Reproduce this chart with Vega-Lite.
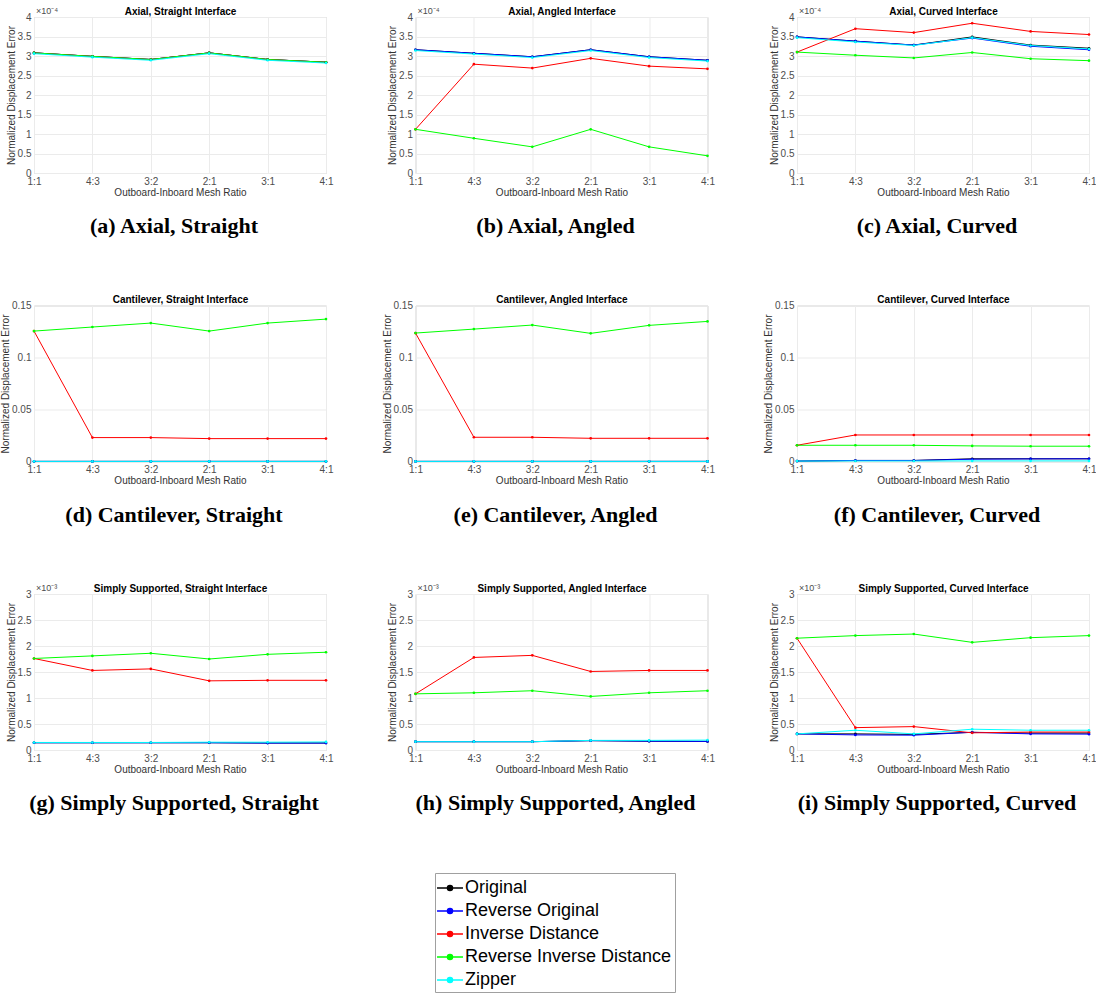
{
"$schema":"https://vega.github.io/schema/vega-lite/v6.json",
"padding":{"left":0,"top":5,"right":0,"bottom":0},
"datasets":{"err":[
{"panel":"a","ratio":"1:1","method":"Original","value":0.000308},{"panel":"a","ratio":"4:3","method":"Original","value":0.000299},{"panel":"a","ratio":"3:2","method":"Original","value":0.000291},{"panel":"a","ratio":"2:1","method":"Original","value":0.000308},{"panel":"a","ratio":"3:1","method":"Original","value":0.000291},{"panel":"a","ratio":"4:1","method":"Original","value":0.000284},
{"panel":"a","ratio":"1:1","method":"Reverse Original","value":0.000308},{"panel":"a","ratio":"4:3","method":"Reverse Original","value":0.000299},{"panel":"a","ratio":"3:2","method":"Reverse Original","value":0.000291},{"panel":"a","ratio":"2:1","method":"Reverse Original","value":0.000308},{"panel":"a","ratio":"3:1","method":"Reverse Original","value":0.000291},{"panel":"a","ratio":"4:1","method":"Reverse Original","value":0.000284},
{"panel":"a","ratio":"1:1","method":"Inverse Distance","value":0.000308},{"panel":"a","ratio":"4:3","method":"Inverse Distance","value":0.000299},{"panel":"a","ratio":"3:2","method":"Inverse Distance","value":0.000291},{"panel":"a","ratio":"2:1","method":"Inverse Distance","value":0.000308},{"panel":"a","ratio":"3:1","method":"Inverse Distance","value":0.000291},{"panel":"a","ratio":"4:1","method":"Inverse Distance","value":0.000284},
{"panel":"a","ratio":"1:1","method":"Reverse Inverse Distance","value":0.000308},{"panel":"a","ratio":"4:3","method":"Reverse Inverse Distance","value":0.000299},{"panel":"a","ratio":"3:2","method":"Reverse Inverse Distance","value":0.000291},{"panel":"a","ratio":"2:1","method":"Reverse Inverse Distance","value":0.000308},{"panel":"a","ratio":"3:1","method":"Reverse Inverse Distance","value":0.000291},{"panel":"a","ratio":"4:1","method":"Reverse Inverse Distance","value":0.000284},
{"panel":"a","ratio":"1:1","method":"Zipper","value":0.000306},{"panel":"a","ratio":"4:3","method":"Zipper","value":0.000297},{"panel":"a","ratio":"3:2","method":"Zipper","value":0.000289},{"panel":"a","ratio":"2:1","method":"Zipper","value":0.000306},{"panel":"a","ratio":"3:1","method":"Zipper","value":0.000289},{"panel":"a","ratio":"4:1","method":"Zipper","value":0.000282},

{"panel":"b","ratio":"1:1","method":"Original","value":0.000316},{"panel":"b","ratio":"4:3","method":"Original","value":0.000307},{"panel":"b","ratio":"3:2","method":"Original","value":0.000298},{"panel":"b","ratio":"2:1","method":"Original","value":0.000316},{"panel":"b","ratio":"3:1","method":"Original","value":0.000298},{"panel":"b","ratio":"4:1","method":"Original","value":0.000289},
{"panel":"b","ratio":"1:1","method":"Reverse Original","value":0.000316},{"panel":"b","ratio":"4:3","method":"Reverse Original","value":0.000307},{"panel":"b","ratio":"3:2","method":"Reverse Original","value":0.000298},{"panel":"b","ratio":"2:1","method":"Reverse Original","value":0.000316},{"panel":"b","ratio":"3:1","method":"Reverse Original","value":0.000298},{"panel":"b","ratio":"4:1","method":"Reverse Original","value":0.000289},
{"panel":"b","ratio":"1:1","method":"Inverse Distance","value":0.000112},{"panel":"b","ratio":"4:3","method":"Inverse Distance","value":0.000279},{"panel":"b","ratio":"3:2","method":"Inverse Distance","value":0.000269},{"panel":"b","ratio":"2:1","method":"Inverse Distance","value":0.000294},{"panel":"b","ratio":"3:1","method":"Inverse Distance","value":0.000274},{"panel":"b","ratio":"4:1","method":"Inverse Distance","value":0.000267},
{"panel":"b","ratio":"1:1","method":"Reverse Inverse Distance","value":0.000112},{"panel":"b","ratio":"4:3","method":"Reverse Inverse Distance","value":0.000089},{"panel":"b","ratio":"3:2","method":"Reverse Inverse Distance","value":0.000067},{"panel":"b","ratio":"2:1","method":"Reverse Inverse Distance","value":0.000112},{"panel":"b","ratio":"3:1","method":"Reverse Inverse Distance","value":0.000067},{"panel":"b","ratio":"4:1","method":"Reverse Inverse Distance","value":0.000044},
{"panel":"b","ratio":"1:1","method":"Zipper","value":0.000314},{"panel":"b","ratio":"4:3","method":"Zipper","value":0.000305},{"panel":"b","ratio":"3:2","method":"Zipper","value":0.000296},{"panel":"b","ratio":"2:1","method":"Zipper","value":0.000314},{"panel":"b","ratio":"3:1","method":"Zipper","value":0.000296},{"panel":"b","ratio":"4:1","method":"Zipper","value":0.000287},

{"panel":"c","ratio":"1:1","method":"Original","value":0.000349},{"panel":"c","ratio":"4:3","method":"Original","value":0.000338},{"panel":"c","ratio":"3:2","method":"Original","value":0.000328},{"panel":"c","ratio":"2:1","method":"Original","value":0.000349},{"panel":"c","ratio":"3:1","method":"Original","value":0.000328},{"panel":"c","ratio":"4:1","method":"Original","value":0.00032},
{"panel":"c","ratio":"1:1","method":"Reverse Original","value":0.000349},{"panel":"c","ratio":"4:3","method":"Reverse Original","value":0.000338},{"panel":"c","ratio":"3:2","method":"Reverse Original","value":0.000328},{"panel":"c","ratio":"2:1","method":"Reverse Original","value":0.000346},{"panel":"c","ratio":"3:1","method":"Reverse Original","value":0.000325},{"panel":"c","ratio":"4:1","method":"Reverse Original","value":0.000316},
{"panel":"c","ratio":"1:1","method":"Inverse Distance","value":0.00031},{"panel":"c","ratio":"4:3","method":"Inverse Distance","value":0.00037},{"panel":"c","ratio":"3:2","method":"Inverse Distance","value":0.00036},{"panel":"c","ratio":"2:1","method":"Inverse Distance","value":0.000384},{"panel":"c","ratio":"3:1","method":"Inverse Distance","value":0.000363},{"panel":"c","ratio":"4:1","method":"Inverse Distance","value":0.000355},
{"panel":"c","ratio":"1:1","method":"Reverse Inverse Distance","value":0.00031},{"panel":"c","ratio":"4:3","method":"Reverse Inverse Distance","value":0.000302},{"panel":"c","ratio":"3:2","method":"Reverse Inverse Distance","value":0.000295},{"panel":"c","ratio":"2:1","method":"Reverse Inverse Distance","value":0.000309},{"panel":"c","ratio":"3:1","method":"Reverse Inverse Distance","value":0.000293},{"panel":"c","ratio":"4:1","method":"Reverse Inverse Distance","value":0.000288},
{"panel":"c","ratio":"1:1","method":"Zipper","value":0.000347},{"panel":"c","ratio":"4:3","method":"Zipper","value":0.000336},{"panel":"c","ratio":"3:2","method":"Zipper","value":0.000327},{"panel":"c","ratio":"2:1","method":"Zipper","value":0.000347},{"panel":"c","ratio":"3:1","method":"Zipper","value":0.000327},{"panel":"c","ratio":"4:1","method":"Zipper","value":0.000318},

{"panel":"d","ratio":"1:1","method":"Original","value":0.0001},{"panel":"d","ratio":"4:3","method":"Original","value":0.0001},{"panel":"d","ratio":"3:2","method":"Original","value":0.0001},{"panel":"d","ratio":"2:1","method":"Original","value":0.0001},{"panel":"d","ratio":"3:1","method":"Original","value":0.0001},{"panel":"d","ratio":"4:1","method":"Original","value":0.0001},
{"panel":"d","ratio":"1:1","method":"Reverse Original","value":0.0001},{"panel":"d","ratio":"4:3","method":"Reverse Original","value":0.0001},{"panel":"d","ratio":"3:2","method":"Reverse Original","value":0.0001},{"panel":"d","ratio":"2:1","method":"Reverse Original","value":0.0001},{"panel":"d","ratio":"3:1","method":"Reverse Original","value":0.0001},{"panel":"d","ratio":"4:1","method":"Reverse Original","value":0.0001},
{"panel":"d","ratio":"1:1","method":"Inverse Distance","value":0.1254},{"panel":"d","ratio":"4:3","method":"Inverse Distance","value":0.023},{"panel":"d","ratio":"3:2","method":"Inverse Distance","value":0.023},{"panel":"d","ratio":"2:1","method":"Inverse Distance","value":0.022},{"panel":"d","ratio":"3:1","method":"Inverse Distance","value":0.022},{"panel":"d","ratio":"4:1","method":"Inverse Distance","value":0.022},
{"panel":"d","ratio":"1:1","method":"Reverse Inverse Distance","value":0.1254},{"panel":"d","ratio":"4:3","method":"Reverse Inverse Distance","value":0.1293},{"panel":"d","ratio":"3:2","method":"Reverse Inverse Distance","value":0.1331},{"panel":"d","ratio":"2:1","method":"Reverse Inverse Distance","value":0.1254},{"panel":"d","ratio":"3:1","method":"Reverse Inverse Distance","value":0.1331},{"panel":"d","ratio":"4:1","method":"Reverse Inverse Distance","value":0.1369},
{"panel":"d","ratio":"1:1","method":"Zipper","value":0.0001},{"panel":"d","ratio":"4:3","method":"Zipper","value":0.0001},{"panel":"d","ratio":"3:2","method":"Zipper","value":0.0001},{"panel":"d","ratio":"2:1","method":"Zipper","value":0.0001},{"panel":"d","ratio":"3:1","method":"Zipper","value":0.0001},{"panel":"d","ratio":"4:1","method":"Zipper","value":0.0001},

{"panel":"e","ratio":"1:1","method":"Original","value":0.0001},{"panel":"e","ratio":"4:3","method":"Original","value":0.0001},{"panel":"e","ratio":"3:2","method":"Original","value":0.0001},{"panel":"e","ratio":"2:1","method":"Original","value":0.0001},{"panel":"e","ratio":"3:1","method":"Original","value":0.0001},{"panel":"e","ratio":"4:1","method":"Original","value":0.0001},
{"panel":"e","ratio":"1:1","method":"Reverse Original","value":0.0001},{"panel":"e","ratio":"4:3","method":"Reverse Original","value":0.0001},{"panel":"e","ratio":"3:2","method":"Reverse Original","value":0.0001},{"panel":"e","ratio":"2:1","method":"Reverse Original","value":0.0001},{"panel":"e","ratio":"3:1","method":"Reverse Original","value":0.0001},{"panel":"e","ratio":"4:1","method":"Reverse Original","value":0.0001},
{"panel":"e","ratio":"1:1","method":"Inverse Distance","value":0.1235},{"panel":"e","ratio":"4:3","method":"Inverse Distance","value":0.0233},{"panel":"e","ratio":"3:2","method":"Inverse Distance","value":0.0233},{"panel":"e","ratio":"2:1","method":"Inverse Distance","value":0.0223},{"panel":"e","ratio":"3:1","method":"Inverse Distance","value":0.0223},{"panel":"e","ratio":"4:1","method":"Inverse Distance","value":0.0223},
{"panel":"e","ratio":"1:1","method":"Reverse Inverse Distance","value":0.1235},{"panel":"e","ratio":"4:3","method":"Reverse Inverse Distance","value":0.1273},{"panel":"e","ratio":"3:2","method":"Reverse Inverse Distance","value":0.1312},{"panel":"e","ratio":"2:1","method":"Reverse Inverse Distance","value":0.1232},{"panel":"e","ratio":"3:1","method":"Reverse Inverse Distance","value":0.1309},{"panel":"e","ratio":"4:1","method":"Reverse Inverse Distance","value":0.1347},
{"panel":"e","ratio":"1:1","method":"Zipper","value":0.0001},{"panel":"e","ratio":"4:3","method":"Zipper","value":0.0001},{"panel":"e","ratio":"3:2","method":"Zipper","value":0.0001},{"panel":"e","ratio":"2:1","method":"Zipper","value":0.0001},{"panel":"e","ratio":"3:1","method":"Zipper","value":0.0001},{"panel":"e","ratio":"4:1","method":"Zipper","value":0.0001},

{"panel":"f","ratio":"1:1","method":"Original","value":0.0004},{"panel":"f","ratio":"4:3","method":"Original","value":0.001},{"panel":"f","ratio":"3:2","method":"Original","value":0.001},{"panel":"f","ratio":"2:1","method":"Original","value":0.0026},{"panel":"f","ratio":"3:1","method":"Original","value":0.0026},{"panel":"f","ratio":"4:1","method":"Original","value":0.0026},
{"panel":"f","ratio":"1:1","method":"Reverse Original","value":0.0004},{"panel":"f","ratio":"4:3","method":"Reverse Original","value":0.001},{"panel":"f","ratio":"3:2","method":"Reverse Original","value":0.001},{"panel":"f","ratio":"2:1","method":"Reverse Original","value":0.0022},{"panel":"f","ratio":"3:1","method":"Reverse Original","value":0.0025},{"panel":"f","ratio":"4:1","method":"Reverse Original","value":0.0026},
{"panel":"f","ratio":"1:1","method":"Inverse Distance","value":0.0156},{"panel":"f","ratio":"4:3","method":"Inverse Distance","value":0.0255},{"panel":"f","ratio":"3:2","method":"Inverse Distance","value":0.0255},{"panel":"f","ratio":"2:1","method":"Inverse Distance","value":0.0255},{"panel":"f","ratio":"3:1","method":"Inverse Distance","value":0.0255},{"panel":"f","ratio":"4:1","method":"Inverse Distance","value":0.0255},
{"panel":"f","ratio":"1:1","method":"Reverse Inverse Distance","value":0.0156},{"panel":"f","ratio":"4:3","method":"Reverse Inverse Distance","value":0.0156},{"panel":"f","ratio":"3:2","method":"Reverse Inverse Distance","value":0.0156},{"panel":"f","ratio":"2:1","method":"Reverse Inverse Distance","value":0.015},{"panel":"f","ratio":"3:1","method":"Reverse Inverse Distance","value":0.0147},{"panel":"f","ratio":"4:1","method":"Reverse Inverse Distance","value":0.0147},
{"panel":"f","ratio":"1:1","method":"Zipper","value":0.0004},{"panel":"f","ratio":"4:3","method":"Zipper","value":0.0005},{"panel":"f","ratio":"3:2","method":"Zipper","value":0.0005},{"panel":"f","ratio":"2:1","method":"Zipper","value":0.0006},{"panel":"f","ratio":"3:1","method":"Zipper","value":0.0006},{"panel":"f","ratio":"4:1","method":"Zipper","value":0.0006},

{"panel":"g","ratio":"1:1","method":"Original","value":0.00014},{"panel":"g","ratio":"4:3","method":"Original","value":0.00014},{"panel":"g","ratio":"3:2","method":"Original","value":0.00014},{"panel":"g","ratio":"2:1","method":"Original","value":0.00014},{"panel":"g","ratio":"3:1","method":"Original","value":0.000135},{"panel":"g","ratio":"4:1","method":"Original","value":0.000135},
{"panel":"g","ratio":"1:1","method":"Reverse Original","value":0.00014},{"panel":"g","ratio":"4:3","method":"Reverse Original","value":0.00014},{"panel":"g","ratio":"3:2","method":"Reverse Original","value":0.00014},{"panel":"g","ratio":"2:1","method":"Reverse Original","value":0.00014},{"panel":"g","ratio":"3:1","method":"Reverse Original","value":0.000133},{"panel":"g","ratio":"4:1","method":"Reverse Original","value":0.000133},
{"panel":"g","ratio":"1:1","method":"Inverse Distance","value":0.00176},{"panel":"g","ratio":"4:3","method":"Inverse Distance","value":0.00153},{"panel":"g","ratio":"3:2","method":"Inverse Distance","value":0.00156},{"panel":"g","ratio":"2:1","method":"Inverse Distance","value":0.00133},{"panel":"g","ratio":"3:1","method":"Inverse Distance","value":0.00134},{"panel":"g","ratio":"4:1","method":"Inverse Distance","value":0.00134},
{"panel":"g","ratio":"1:1","method":"Reverse Inverse Distance","value":0.00176},{"panel":"g","ratio":"4:3","method":"Reverse Inverse Distance","value":0.00181},{"panel":"g","ratio":"3:2","method":"Reverse Inverse Distance","value":0.00186},{"panel":"g","ratio":"2:1","method":"Reverse Inverse Distance","value":0.00175},{"panel":"g","ratio":"3:1","method":"Reverse Inverse Distance","value":0.00184},{"panel":"g","ratio":"4:1","method":"Reverse Inverse Distance","value":0.00188},
{"panel":"g","ratio":"1:1","method":"Zipper","value":0.000145},{"panel":"g","ratio":"4:3","method":"Zipper","value":0.000145},{"panel":"g","ratio":"3:2","method":"Zipper","value":0.000145},{"panel":"g","ratio":"2:1","method":"Zipper","value":0.00015},{"panel":"g","ratio":"3:1","method":"Zipper","value":0.00015},{"panel":"g","ratio":"4:1","method":"Zipper","value":0.000155},

{"panel":"h","ratio":"1:1","method":"Original","value":0.00016},{"panel":"h","ratio":"4:3","method":"Original","value":0.00016},{"panel":"h","ratio":"3:2","method":"Original","value":0.00016},{"panel":"h","ratio":"2:1","method":"Original","value":0.00018},{"panel":"h","ratio":"3:1","method":"Original","value":0.00017},{"panel":"h","ratio":"4:1","method":"Original","value":0.000165},
{"panel":"h","ratio":"1:1","method":"Reverse Original","value":0.00016},{"panel":"h","ratio":"4:3","method":"Reverse Original","value":0.00016},{"panel":"h","ratio":"3:2","method":"Reverse Original","value":0.00016},{"panel":"h","ratio":"2:1","method":"Reverse Original","value":0.00018},{"panel":"h","ratio":"3:1","method":"Reverse Original","value":0.00017},{"panel":"h","ratio":"4:1","method":"Reverse Original","value":0.000165},
{"panel":"h","ratio":"1:1","method":"Inverse Distance","value":0.00108},{"panel":"h","ratio":"4:3","method":"Inverse Distance","value":0.00178},{"panel":"h","ratio":"3:2","method":"Inverse Distance","value":0.00182},{"panel":"h","ratio":"2:1","method":"Inverse Distance","value":0.00151},{"panel":"h","ratio":"3:1","method":"Inverse Distance","value":0.00153},{"panel":"h","ratio":"4:1","method":"Inverse Distance","value":0.00153},
{"panel":"h","ratio":"1:1","method":"Reverse Inverse Distance","value":0.00108},{"panel":"h","ratio":"4:3","method":"Reverse Inverse Distance","value":0.0011},{"panel":"h","ratio":"3:2","method":"Reverse Inverse Distance","value":0.00114},{"panel":"h","ratio":"2:1","method":"Reverse Inverse Distance","value":0.00103},{"panel":"h","ratio":"3:1","method":"Reverse Inverse Distance","value":0.0011},{"panel":"h","ratio":"4:1","method":"Reverse Inverse Distance","value":0.00114},
{"panel":"h","ratio":"1:1","method":"Zipper","value":0.00016},{"panel":"h","ratio":"4:3","method":"Zipper","value":0.00016},{"panel":"h","ratio":"3:2","method":"Zipper","value":0.00016},{"panel":"h","ratio":"2:1","method":"Zipper","value":0.000185},{"panel":"h","ratio":"3:1","method":"Zipper","value":0.000185},{"panel":"h","ratio":"4:1","method":"Zipper","value":0.00019},

{"panel":"i","ratio":"1:1","method":"Original","value":0.00031},{"panel":"i","ratio":"4:3","method":"Original","value":0.00031},{"panel":"i","ratio":"3:2","method":"Original","value":0.0003},{"panel":"i","ratio":"2:1","method":"Original","value":0.00034},{"panel":"i","ratio":"3:1","method":"Original","value":0.000325},{"panel":"i","ratio":"4:1","method":"Original","value":0.000325},
{"panel":"i","ratio":"1:1","method":"Reverse Original","value":0.00031},{"panel":"i","ratio":"4:3","method":"Reverse Original","value":0.00029},{"panel":"i","ratio":"3:2","method":"Reverse Original","value":0.000285},{"panel":"i","ratio":"2:1","method":"Reverse Original","value":0.00034},{"panel":"i","ratio":"3:1","method":"Reverse Original","value":0.00031},{"panel":"i","ratio":"4:1","method":"Reverse Original","value":0.000305},
{"panel":"i","ratio":"1:1","method":"Inverse Distance","value":0.00215},{"panel":"i","ratio":"4:3","method":"Inverse Distance","value":0.00043},{"panel":"i","ratio":"3:2","method":"Inverse Distance","value":0.00045},{"panel":"i","ratio":"2:1","method":"Inverse Distance","value":0.00033},{"panel":"i","ratio":"3:1","method":"Inverse Distance","value":0.000345},{"panel":"i","ratio":"4:1","method":"Inverse Distance","value":0.000345},
{"panel":"i","ratio":"1:1","method":"Reverse Inverse Distance","value":0.00215},{"panel":"i","ratio":"4:3","method":"Reverse Inverse Distance","value":0.0022},{"panel":"i","ratio":"3:2","method":"Reverse Inverse Distance","value":0.00223},{"panel":"i","ratio":"2:1","method":"Reverse Inverse Distance","value":0.00207},{"panel":"i","ratio":"3:1","method":"Reverse Inverse Distance","value":0.00216},{"panel":"i","ratio":"4:1","method":"Reverse Inverse Distance","value":0.0022},
{"panel":"i","ratio":"1:1","method":"Zipper","value":0.00031},{"panel":"i","ratio":"4:3","method":"Zipper","value":0.00038},{"panel":"i","ratio":"3:2","method":"Zipper","value":0.00031},{"panel":"i","ratio":"2:1","method":"Zipper","value":0.0004},{"panel":"i","ratio":"3:1","method":"Zipper","value":0.00038},{"panel":"i","ratio":"4:1","method":"Zipper","value":0.00038}
]},
"columns":3,
"bounds":"flush",
"spacing":{"row":132.5,"column":89.5},
"resolve":{"scale":{"color":"shared"},"legend":{"color":"shared"}},
"concat":[
{"width":292,"height":156,"data":{"name":"err"},"title":{"text":"(a) Axial, Straight"},
"layer":[
{"transform":[{"filter":"datum.panel=='a'"}],"mark":{"type":"line","strokeWidth":1},
"encoding":{"x":{"field":"ratio","type":"ordinal","scale":{"type":"point","padding":0,"domain":["1:1","4:3","3:2","2:1","3:1","4:1"]},"axis":{"title":"Outboard-Inboard Mesh Ratio","grid":true,"labelAngle":0}},
"y":{"field":"value","type":"quantitative","scale":{"domain":[0,0.0004],"nice":false},"axis":{"values":[0,0.00005,0.0001,0.00015,0.0002,0.00025,0.0003,0.00035,0.0004],"tickCount":20,"labelExpr":"format(datum.value*10000,'.4~g')","title":"Normalized Displacement Error","grid":true}},
"color":{"field":"method","type":"nominal","scale":{"domain":["Original","Reverse Original","Inverse Distance","Reverse Inverse Distance","Zipper"],"range":["#000000","#0000ff","#ff0000","#00ff00","#00ffff"]},
"legend":{"orient":"none","legendX":401,"legendY":856,"title":null,"labelFont":"Liberation Sans","labelFontSize":18,"labelColor":"#000000","symbolType":"M-1.18,0L1.18,0M0.23,0A0.23,0.23,0,1,1,-0.23,0A0.23,0.23,0,1,1,0.23,0Z","symbolSize":484,"symbolStrokeWidth":1.5,"strokeColor":"#a0a0a0","fillColor":"#ffffff","padding":3,"rowPadding":2,"labelOffset":3,"labelLimit":400,"encode":{"symbols":{"update":{"fill":{"scale":"color","field":"value"},"stroke":{"scale":"color","field":"value"}}}}}},
"order":{"value":null}}},
{"transform":[{"filter":"datum.panel=='a'"}],"mark":{"type":"point","filled":true,"size":7,"opacity":1},
"encoding":{"x":{"field":"ratio","type":"ordinal","scale":{"type":"point","padding":0,"domain":["1:1","4:3","3:2","2:1","3:1","4:1"]},"axis":{"orient":"top","title":"Axial, Straight Interface","labels":false,"ticks":false,"domain":false,"grid":false,"titleFontWeight":"bold","titleColor":"#000000","titlePadding":1}},
"y":{"field":"value","type":"quantitative","axis":null},
"color":{"field":"method","type":"nominal"}}},
{"data":{"values":[{"t":"×10⁻⁴"}]},"mark":{"type":"text","align":"left","baseline":"bottom","dx":2,"dy":-1,"fontSize":9,"color":"#4d4d4d"},
"encoding":{"x":{"datum":"1:1","type":"ordinal","scale":{"type":"point","padding":0,"domain":["1:1","4:3","3:2","2:1","3:1","4:1"]},"axis":null},"y":{"datum":0.0004,"type":"quantitative","axis":null},"text":{"field":"t"}}}
],
"resolve":{"axis":{"x":"independent","y":"independent"}}},

{"width":292,"height":156,"data":{"name":"err"},"title":{"text":"(b) Axial, Angled"},
"layer":[
{"transform":[{"filter":"datum.panel=='b'"}],"mark":{"type":"line","strokeWidth":1},
"encoding":{"x":{"field":"ratio","type":"ordinal","scale":{"type":"point","padding":0,"domain":["1:1","4:3","3:2","2:1","3:1","4:1"]},"axis":{"title":"Outboard-Inboard Mesh Ratio","grid":true,"labelAngle":0}},
"y":{"field":"value","type":"quantitative","scale":{"domain":[0,0.0004],"nice":false},"axis":{"values":[0,0.00005,0.0001,0.00015,0.0002,0.00025,0.0003,0.00035,0.0004],"tickCount":20,"labelExpr":"format(datum.value*10000,'.4~g')","title":"Normalized Displacement Error","grid":true}},
"color":{"field":"method","type":"nominal"},"order":{"value":null}}},
{"transform":[{"filter":"datum.panel=='b'"}],"mark":{"type":"point","filled":true,"size":7,"opacity":1},
"encoding":{"x":{"field":"ratio","type":"ordinal","scale":{"type":"point","padding":0,"domain":["1:1","4:3","3:2","2:1","3:1","4:1"]},"axis":{"orient":"top","title":"Axial, Angled Interface","labels":false,"ticks":false,"domain":false,"grid":false,"titleFontWeight":"bold","titleColor":"#000000","titlePadding":1}},
"y":{"field":"value","type":"quantitative","axis":null},"color":{"field":"method","type":"nominal"}}},
{"data":{"values":[{"t":"×10⁻⁴"}]},"mark":{"type":"text","align":"left","baseline":"bottom","dx":2,"dy":-1,"fontSize":9,"color":"#4d4d4d"},
"encoding":{"x":{"datum":"1:1","type":"ordinal","scale":{"type":"point","padding":0,"domain":["1:1","4:3","3:2","2:1","3:1","4:1"]},"axis":null},"y":{"datum":0.0004,"type":"quantitative","axis":null},"text":{"field":"t"}}}
],
"resolve":{"axis":{"x":"independent","y":"independent"}}},

{"width":292,"height":156,"data":{"name":"err"},"title":{"text":"(c) Axial, Curved"},
"layer":[
{"transform":[{"filter":"datum.panel=='c'"}],"mark":{"type":"line","strokeWidth":1},
"encoding":{"x":{"field":"ratio","type":"ordinal","scale":{"type":"point","padding":0,"domain":["1:1","4:3","3:2","2:1","3:1","4:1"]},"axis":{"title":"Outboard-Inboard Mesh Ratio","grid":true,"labelAngle":0}},
"y":{"field":"value","type":"quantitative","scale":{"domain":[0,0.0004],"nice":false},"axis":{"values":[0,0.00005,0.0001,0.00015,0.0002,0.00025,0.0003,0.00035,0.0004],"tickCount":20,"labelExpr":"format(datum.value*10000,'.4~g')","title":"Normalized Displacement Error","grid":true}},
"color":{"field":"method","type":"nominal"},"order":{"value":null}}},
{"transform":[{"filter":"datum.panel=='c'"}],"mark":{"type":"point","filled":true,"size":7,"opacity":1},
"encoding":{"x":{"field":"ratio","type":"ordinal","scale":{"type":"point","padding":0,"domain":["1:1","4:3","3:2","2:1","3:1","4:1"]},"axis":{"orient":"top","title":"Axial, Curved Interface","labels":false,"ticks":false,"domain":false,"grid":false,"titleFontWeight":"bold","titleColor":"#000000","titlePadding":1}},
"y":{"field":"value","type":"quantitative","axis":null},"color":{"field":"method","type":"nominal"}}},
{"data":{"values":[{"t":"×10⁻⁴"}]},"mark":{"type":"text","align":"left","baseline":"bottom","dx":2,"dy":-1,"fontSize":9,"color":"#4d4d4d"},
"encoding":{"x":{"datum":"1:1","type":"ordinal","scale":{"type":"point","padding":0,"domain":["1:1","4:3","3:2","2:1","3:1","4:1"]},"axis":null},"y":{"datum":0.0004,"type":"quantitative","axis":null},"text":{"field":"t"}}}
],
"resolve":{"axis":{"x":"independent","y":"independent"}}},

{"width":292,"height":156,"data":{"name":"err"},"title":{"text":"(d) Cantilever, Straight"},
"layer":[
{"transform":[{"filter":"datum.panel=='d'"}],"mark":{"type":"line","strokeWidth":1},
"encoding":{"x":{"field":"ratio","type":"ordinal","scale":{"type":"point","padding":0,"domain":["1:1","4:3","3:2","2:1","3:1","4:1"]},"axis":{"title":"Outboard-Inboard Mesh Ratio","grid":true,"labelAngle":0}},
"y":{"field":"value","type":"quantitative","scale":{"domain":[0,0.15],"nice":false},"axis":{"values":[0,0.05,0.1,0.15],"tickCount":20,"labelExpr":"format(datum.value,'.4~g')","title":"Normalized Displacement Error","grid":true}},
"color":{"field":"method","type":"nominal"},"order":{"value":null}}},
{"transform":[{"filter":"datum.panel=='d'"}],"mark":{"type":"point","filled":true,"size":7,"opacity":1},
"encoding":{"x":{"field":"ratio","type":"ordinal","scale":{"type":"point","padding":0,"domain":["1:1","4:3","3:2","2:1","3:1","4:1"]},"axis":{"orient":"top","title":"Cantilever, Straight Interface","labels":false,"ticks":false,"domain":false,"grid":false,"titleFontWeight":"bold","titleColor":"#000000","titlePadding":1}},
"y":{"field":"value","type":"quantitative","axis":null},"color":{"field":"method","type":"nominal"}}}
],
"resolve":{"axis":{"x":"independent","y":"independent"}}},

{"width":292,"height":156,"data":{"name":"err"},"title":{"text":"(e) Cantilever, Angled"},
"layer":[
{"transform":[{"filter":"datum.panel=='e'"}],"mark":{"type":"line","strokeWidth":1},
"encoding":{"x":{"field":"ratio","type":"ordinal","scale":{"type":"point","padding":0,"domain":["1:1","4:3","3:2","2:1","3:1","4:1"]},"axis":{"title":"Outboard-Inboard Mesh Ratio","grid":true,"labelAngle":0}},
"y":{"field":"value","type":"quantitative","scale":{"domain":[0,0.15],"nice":false},"axis":{"values":[0,0.05,0.1,0.15],"tickCount":20,"labelExpr":"format(datum.value,'.4~g')","title":"Normalized Displacement Error","grid":true}},
"color":{"field":"method","type":"nominal"},"order":{"value":null}}},
{"transform":[{"filter":"datum.panel=='e'"}],"mark":{"type":"point","filled":true,"size":7,"opacity":1},
"encoding":{"x":{"field":"ratio","type":"ordinal","scale":{"type":"point","padding":0,"domain":["1:1","4:3","3:2","2:1","3:1","4:1"]},"axis":{"orient":"top","title":"Cantilever, Angled Interface","labels":false,"ticks":false,"domain":false,"grid":false,"titleFontWeight":"bold","titleColor":"#000000","titlePadding":1}},
"y":{"field":"value","type":"quantitative","axis":null},"color":{"field":"method","type":"nominal"}}}
],
"resolve":{"axis":{"x":"independent","y":"independent"}}},

{"width":292,"height":156,"data":{"name":"err"},"title":{"text":"(f) Cantilever, Curved"},
"layer":[
{"transform":[{"filter":"datum.panel=='f'"}],"mark":{"type":"line","strokeWidth":1},
"encoding":{"x":{"field":"ratio","type":"ordinal","scale":{"type":"point","padding":0,"domain":["1:1","4:3","3:2","2:1","3:1","4:1"]},"axis":{"title":"Outboard-Inboard Mesh Ratio","grid":true,"labelAngle":0}},
"y":{"field":"value","type":"quantitative","scale":{"domain":[0,0.15],"nice":false},"axis":{"values":[0,0.05,0.1,0.15],"tickCount":20,"labelExpr":"format(datum.value,'.4~g')","title":"Normalized Displacement Error","grid":true}},
"color":{"field":"method","type":"nominal"},"order":{"value":null}}},
{"transform":[{"filter":"datum.panel=='f'"}],"mark":{"type":"point","filled":true,"size":7,"opacity":1},
"encoding":{"x":{"field":"ratio","type":"ordinal","scale":{"type":"point","padding":0,"domain":["1:1","4:3","3:2","2:1","3:1","4:1"]},"axis":{"orient":"top","title":"Cantilever, Curved Interface","labels":false,"ticks":false,"domain":false,"grid":false,"titleFontWeight":"bold","titleColor":"#000000","titlePadding":1}},
"y":{"field":"value","type":"quantitative","axis":null},"color":{"field":"method","type":"nominal"}}}
],
"resolve":{"axis":{"x":"independent","y":"independent"}}},

{"width":292,"height":156,"data":{"name":"err"},"title":{"text":"(g) Simply Supported, Straight"},
"layer":[
{"transform":[{"filter":"datum.panel=='g'"}],"mark":{"type":"line","strokeWidth":1},
"encoding":{"x":{"field":"ratio","type":"ordinal","scale":{"type":"point","padding":0,"domain":["1:1","4:3","3:2","2:1","3:1","4:1"]},"axis":{"title":"Outboard-Inboard Mesh Ratio","grid":true,"labelAngle":0}},
"y":{"field":"value","type":"quantitative","scale":{"domain":[0,0.003],"nice":false},"axis":{"values":[0,0.0005,0.001,0.0015,0.002,0.0025,0.003],"tickCount":20,"labelExpr":"format(datum.value*1000,'.4~g')","title":"Normalized Displacement Error","grid":true}},
"color":{"field":"method","type":"nominal"},"order":{"value":null}}},
{"transform":[{"filter":"datum.panel=='g'"}],"mark":{"type":"point","filled":true,"size":7,"opacity":1},
"encoding":{"x":{"field":"ratio","type":"ordinal","scale":{"type":"point","padding":0,"domain":["1:1","4:3","3:2","2:1","3:1","4:1"]},"axis":{"orient":"top","title":"Simply Supported, Straight Interface","labels":false,"ticks":false,"domain":false,"grid":false,"titleFontWeight":"bold","titleColor":"#000000","titlePadding":1}},
"y":{"field":"value","type":"quantitative","axis":null},"color":{"field":"method","type":"nominal"}}},
{"data":{"values":[{"t":"×10⁻³"}]},"mark":{"type":"text","align":"left","baseline":"bottom","dx":2,"dy":-1,"fontSize":9,"color":"#4d4d4d"},
"encoding":{"x":{"datum":"1:1","type":"ordinal","scale":{"type":"point","padding":0,"domain":["1:1","4:3","3:2","2:1","3:1","4:1"]},"axis":null},"y":{"datum":0.003,"type":"quantitative","axis":null},"text":{"field":"t"}}}
],
"resolve":{"axis":{"x":"independent","y":"independent"}}},

{"width":292,"height":156,"data":{"name":"err"},"title":{"text":"(h) Simply Supported, Angled"},
"layer":[
{"transform":[{"filter":"datum.panel=='h'"}],"mark":{"type":"line","strokeWidth":1},
"encoding":{"x":{"field":"ratio","type":"ordinal","scale":{"type":"point","padding":0,"domain":["1:1","4:3","3:2","2:1","3:1","4:1"]},"axis":{"title":"Outboard-Inboard Mesh Ratio","grid":true,"labelAngle":0}},
"y":{"field":"value","type":"quantitative","scale":{"domain":[0,0.003],"nice":false},"axis":{"values":[0,0.0005,0.001,0.0015,0.002,0.0025,0.003],"tickCount":20,"labelExpr":"format(datum.value*1000,'.4~g')","title":"Normalized Displacement Error","grid":true}},
"color":{"field":"method","type":"nominal"},"order":{"value":null}}},
{"transform":[{"filter":"datum.panel=='h'"}],"mark":{"type":"point","filled":true,"size":7,"opacity":1},
"encoding":{"x":{"field":"ratio","type":"ordinal","scale":{"type":"point","padding":0,"domain":["1:1","4:3","3:2","2:1","3:1","4:1"]},"axis":{"orient":"top","title":"Simply Supported, Angled Interface","labels":false,"ticks":false,"domain":false,"grid":false,"titleFontWeight":"bold","titleColor":"#000000","titlePadding":1}},
"y":{"field":"value","type":"quantitative","axis":null},"color":{"field":"method","type":"nominal"}}},
{"data":{"values":[{"t":"×10⁻³"}]},"mark":{"type":"text","align":"left","baseline":"bottom","dx":2,"dy":-1,"fontSize":9,"color":"#4d4d4d"},
"encoding":{"x":{"datum":"1:1","type":"ordinal","scale":{"type":"point","padding":0,"domain":["1:1","4:3","3:2","2:1","3:1","4:1"]},"axis":null},"y":{"datum":0.003,"type":"quantitative","axis":null},"text":{"field":"t"}}}
],
"resolve":{"axis":{"x":"independent","y":"independent"}}},

{"width":292,"height":156,"data":{"name":"err"},"title":{"text":"(i) Simply Supported, Curved"},
"layer":[
{"transform":[{"filter":"datum.panel=='i'"}],"mark":{"type":"line","strokeWidth":1},
"encoding":{"x":{"field":"ratio","type":"ordinal","scale":{"type":"point","padding":0,"domain":["1:1","4:3","3:2","2:1","3:1","4:1"]},"axis":{"title":"Outboard-Inboard Mesh Ratio","grid":true,"labelAngle":0}},
"y":{"field":"value","type":"quantitative","scale":{"domain":[0,0.003],"nice":false},"axis":{"values":[0,0.0005,0.001,0.0015,0.002,0.0025,0.003],"tickCount":20,"labelExpr":"format(datum.value*1000,'.4~g')","title":"Normalized Displacement Error","grid":true}},
"color":{"field":"method","type":"nominal"},"order":{"value":null}}},
{"transform":[{"filter":"datum.panel=='i'"}],"mark":{"type":"point","filled":true,"size":7,"opacity":1},
"encoding":{"x":{"field":"ratio","type":"ordinal","scale":{"type":"point","padding":0,"domain":["1:1","4:3","3:2","2:1","3:1","4:1"]},"axis":{"orient":"top","title":"Simply Supported, Curved Interface","labels":false,"ticks":false,"domain":false,"grid":false,"titleFontWeight":"bold","titleColor":"#000000","titlePadding":1}},
"y":{"field":"value","type":"quantitative","axis":null},"color":{"field":"method","type":"nominal"}}},
{"data":{"values":[{"t":"×10⁻³"}]},"mark":{"type":"text","align":"left","baseline":"bottom","dx":2,"dy":-1,"fontSize":9,"color":"#4d4d4d"},
"encoding":{"x":{"datum":"1:1","type":"ordinal","scale":{"type":"point","padding":0,"domain":["1:1","4:3","3:2","2:1","3:1","4:1"]},"axis":null},"y":{"datum":0.003,"type":"quantitative","axis":null},"text":{"field":"t"}}}
],
"resolve":{"axis":{"x":"independent","y":"independent"}}}
],
"config":{
"font":"Liberation Sans",
"view":{"stroke":"#cfcfcf","strokeWidth":1},
"axis":{"labelFont":"Liberation Sans","labelFontSize":10,"labelColor":"#4d4d4d","titleFont":"Liberation Sans","titleFontSize":10,"titleFontWeight":"normal","titleColor":"#333333","gridColor":"#ebebeb","gridWidth":1,"domain":false,"ticks":false,"labelPadding":3,"titlePadding":1,"labelOverlap":false},
"title":{"orient":"bottom","font":"Liberation Serif","fontSize":22,"fontWeight":"bold","color":"#000000","offset":19,"dx":-6,"anchor":"middle","frame":"group"}
}
}
